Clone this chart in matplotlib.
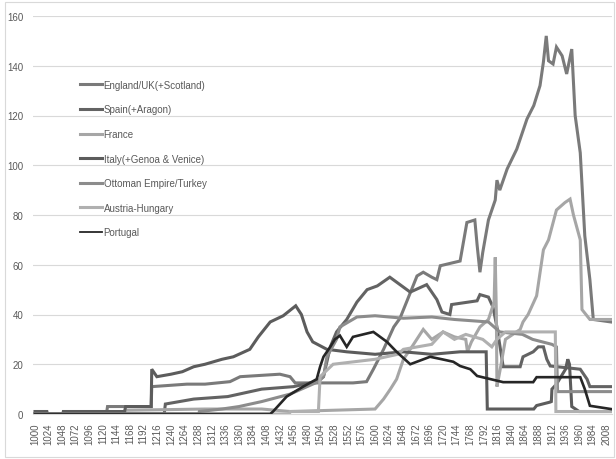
import matplotlib
matplotlib.use('Agg')
import matplotlib.pyplot as plt
from matplotlib.patches import Rectangle

plt.rcParams['font.family'] = ['Liberation Sans', 'DejaVu Sans']

# keyframes (year, value)
england_years = [1000, 1126, 1128, 1205, 1206, 1268, 1300, 1344, 1362, 1432, 1450, 1459, 1561, 1585,
                 1597, 1615, 1633, 1644, 1667, 1674, 1685, 1700, 1709, 1715, 1750, 1762, 1776, 1780,
                 1785, 1790, 1800, 1812, 1815, 1820, 1833, 1850, 1868, 1880, 1891, 1897, 1902, 1906,
                 1914, 1920, 1930, 1938, 1947, 1953, 1962, 1970, 1979, 1985, 2016]
england_vals = [0, 0, 3, 3, 11, 12, 12, 13, 15, 16, 15, 12.5, 12.5, 13,
                18, 26, 35, 38.5, 51.5, 55.5, 57, 55, 54, 59.6, 61.5, 77, 78, 68,
                57, 65, 78, 86, 94, 90, 98.5, 106.5, 118.6, 124, 132, 141.5, 152, 142,
                140.7, 147.5, 144, 136.7, 146.7, 120, 105, 71.6, 54, 38, 37]

spain_years = [1000, 1228, 1230, 1280, 1340, 1400, 1456, 1497, 1509, 1521, 1532, 1550, 1568, 1586,
               1604, 1626, 1644, 1662, 1691, 1709, 1718, 1732, 1735, 1780, 1785, 1800, 1808, 1815,
               1826, 1856, 1861, 1879, 1888, 1897, 1903, 1909, 1962, 1974, 1979, 2016]
spain_vals = [0, 0, 4, 6, 7, 10, 11, 13, 15, 27, 33, 38, 45, 50,
              51.5, 55, 52, 49, 52, 46, 41, 40, 44, 45.5, 48, 47, 43, 35,
              19, 19, 23, 25, 27, 27, 22, 19.3, 18, 14, 11, 11]

france_years = [1000, 1158, 1160, 1300, 1400, 1450, 1600, 1615, 1627, 1638, 1650, 1665, 1685, 1700,
                1720, 1740, 1760, 1763, 1770, 1785, 1800, 1810, 1812, 1814, 1815, 1820, 1830, 1856,
                1861, 1870, 1885, 1897, 1906, 1920, 1935, 1944, 1950, 1962, 1965, 1979, 2016]
france_vals = [0, 0, 1.5, 2, 2, 1, 2, 6, 10, 14, 22, 27, 34, 30,
               33, 31, 30, 25, 29, 35, 38, 45, 63, 40, 11, 17, 30, 34,
               37, 40, 47.5, 66, 70, 82, 85, 86.4, 80, 70, 42, 38, 38]

italy_years = [1000, 1021, 1022, 1049, 1050, 1158, 1160, 1205, 1206, 1215, 1240, 1260, 1280, 1300,
               1330, 1350, 1379, 1394, 1415, 1438, 1460, 1470, 1480, 1490, 1515, 1550, 1600, 1650,
               1700, 1750, 1796, 1798, 1880, 1885, 1909, 1911, 1912, 1920, 1936, 1940, 1943, 1947,
               1960, 2016]
italy_vals = [1, 1, 0, 0, 1, 1, 3, 3, 18, 15, 16, 17, 19, 20,
              22, 23, 26, 31, 37, 39.5, 43.5, 40, 33, 29, 26, 25, 24, 25,
              24, 25, 25, 2, 2, 3.4, 4.8, 5, 10, 12, 18, 22, 20, 3,
              1, 1]

ottoman_years = [1000, 1289, 1290, 1330, 1360, 1400, 1450, 1480, 1500, 1509, 1515, 1532, 1538, 1568,
                 1600, 1650, 1700, 1740, 1800, 1820, 1860, 1878, 1912, 1920, 1922, 2016]
ottoman_vals = [0, 0, 1, 2, 3, 5, 8, 11, 13, 15, 23, 30, 35, 39,
                39.5, 38.5, 39, 38, 37, 33, 32, 30, 28, 27, 9, 9]

austria_years = [1000, 1449, 1450, 1500, 1503, 1526, 1600, 1640, 1650, 1700, 1720, 1740, 1760, 1790,
                 1806, 1815, 1830, 1918, 1919, 2016]
austria_vals = [0, 0, 1, 1, 15, 20, 22, 24, 26, 28, 33, 30, 32, 30,
                27, 30, 33, 33, 1, 1]

portugal_years = [1000, 1415, 1420, 1444, 1473, 1497, 1503, 1509, 1521, 1529, 1538, 1550, 1561, 1597,
                  1621, 1638, 1662, 1697, 1718, 1738, 1750, 1768, 1780, 1826, 1879, 1885, 1962, 1970,
                  1979, 2016]
portugal_vals = [0, 0, 1, 7, 11, 14, 19, 23, 27, 30, 31.5, 27, 31, 33,
                 29, 25, 20, 23, 22, 21, 19.3, 18, 15.3, 12.8, 12.8, 14.8, 14.8, 10,
                 3.3, 2]

series = [
    ('England/UK(+Scotland)', england_years, england_vals, '#7a7a7a', 2.2),
    ('Spain(+Aragon)', spain_years, spain_vals, '#636363', 2.2),
    ('France', france_years, france_vals, '#a6a6a6', 2.2),
    ('Italy(+Genoa & Venice)', italy_years, italy_vals, '#5c5c5c', 2.2),
    ('Ottoman Empire/Turkey', ottoman_years, ottoman_vals, '#8c8c8c', 2.2),
    ('Austria-Hungary', austria_years, austria_vals, '#b0b0b0', 2.2),
    ('Portugal', portugal_years, portugal_vals, '#262626', 1.9),
]

tick_years = list(range(1000, 2009, 24))

fig = plt.figure(figsize=(6.16, 4.6), dpi=100)
ax = fig.add_axes([33 / 616, 45 / 460, 579 / 616, 398 / 460])

for name, yrs, vals, col, lw in series:
    ax.plot(yrs, vals, color=col, lw=lw, label=name, solid_joinstyle='miter')

ax.set_xlim(996.5, 2018)
ax.set_ylim(0, 160)
ax.set_yticks(range(0, 161, 20))
ax.set_xticks(tick_years)
ax.set_xticklabels([str(y) for y in tick_years], rotation=90)
ax.tick_params(axis='both', length=0, labelsize=7, colors='#595959')
ax.tick_params(axis='y', pad=7)
ax.tick_params(axis='x', pad=6)
ax.grid(axis='y', color='#d9d9d9', lw=0.8)
ax.set_axisbelow(True)
for s in ['top', 'right', 'left']:
    ax.spines[s].set_visible(False)
ax.spines['bottom'].set_color('#d9d9d9')

leg = ax.legend(loc='upper left', bbox_to_anchor=(76 / 616, 1 - 77 / 460), bbox_transform=fig.transFigure,
                frameon=False, fontsize=7, handlelength=2.3, handletextpad=0.15, labelspacing=1.5,
                borderaxespad=0)
for t in leg.get_texts():
    t.set_color('#595959')
leg.get_lines()[-1].set_linewidth(1.3)

fig.patches.append(Rectangle((5 / 616, 2 / 460), 609 / 616, 455 / 460, transform=fig.transFigure,
                             fill=False, edgecolor='#d9d9d9', lw=0.8))

fig.savefig('out.png', dpi=100)
